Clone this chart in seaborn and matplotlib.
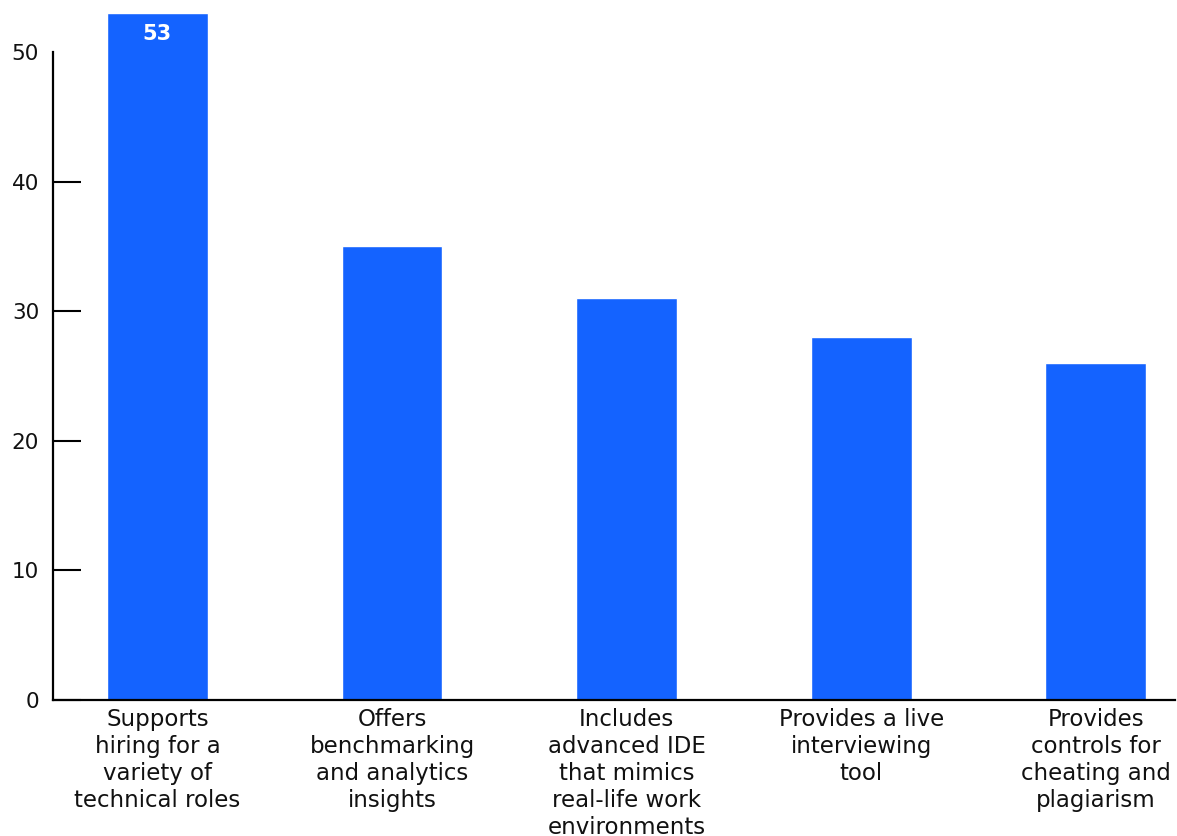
import matplotlib
matplotlib.use("Agg")
import matplotlib.pyplot as plt
import seaborn as sns
import pandas as pd

categories = [
    "Supports\nhiring for a\nvariety of\ntechnical roles",
    "Offers\nbenchmarking\nand analytics\ninsights",
    "Includes\nadvanced IDE\nthat mimics\nreal-life work\nenvironments",
    "Provides a live\ninterviewing\ntool",
    "Provides\ncontrols for\ncheating and\nplagiarism",
]
values = [53, 35, 31, 28, 26]
y_ticks = [0, 10, 20, 30, 40, 50]

BAR_COLOR = "#1463FF"

sns.set_theme(style="white")
plt.rcParams["font.family"] = ["DejaVu Sans"]

df = pd.DataFrame({"feature": categories, "share": values})

fig = plt.figure(figsize=(11.77, 8.36), dpi=100)
ax = fig.add_axes([53 / 1177, 136 / 836, (1175 - 53) / 1177, (700 - 52) / 836])

sns.barplot(data=df, x="feature", y="share", color=BAR_COLOR, saturation=1,
            width=0.43, ax=ax)
for p in ax.patches:
    p.set_clip_on(False)

ax.set_ylim(0, 50)
ax.set_xlim(-0.445, 4.337)
ax.set_yticks(y_ticks)
ax.set_xlabel("")
ax.set_ylabel("")

for side in ("top", "right"):
    ax.spines[side].set_visible(False)
for side in ("left", "bottom"):
    ax.spines[side].set_color("#000000")
    ax.spines[side].set_linewidth(1.6)

ax.tick_params(axis="y", direction="in", length=20, width=1.5, color="#000000",
               pad=10, labelsize=15.5, labelcolor="#111111", left=True)
ax.tick_params(axis="x", length=0, pad=6, labelsize=16.5, labelcolor="#111111")
for lbl in ax.get_xticklabels():
    lbl.set_linespacing(1.22)
ax.yaxis.get_major_ticks()[-1].tick1line.set_visible(False)

ax.annotate(f"{values[0]}", xy=(0, values[0]), xytext=(0, -15),
            textcoords="offset points", ha="center", va="center",
            color="white", fontsize=15, fontweight="bold",
            annotation_clip=False)

fig.savefig("out.png", dpi=100)
